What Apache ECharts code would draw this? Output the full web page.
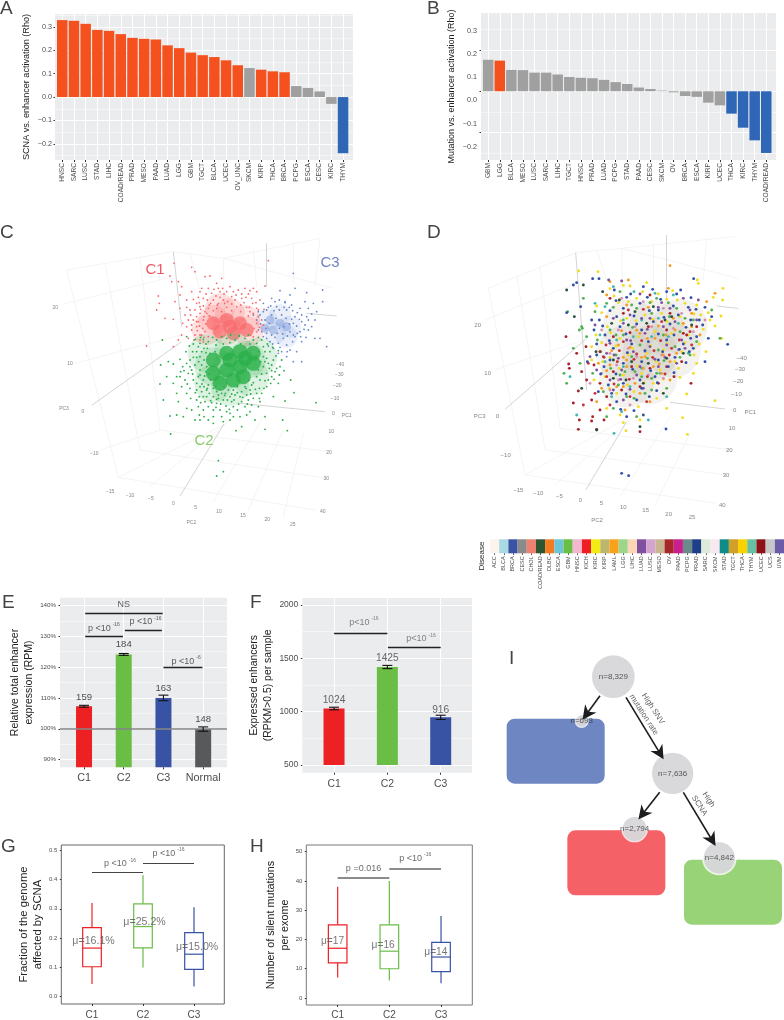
<!DOCTYPE html>
<html><head><meta charset="utf-8">
<style>html,body{margin:0;padding:0;background:#fff}#c{width:784px;height:1020px}</style>
<script src="https://cdn.jsdelivr.net/npm/echarts@6/dist/echarts.min.js"></script>
</head><body><div id="c"></div>
<script>
const FF='"Liberation Sans",Arial,sans-serif';
const RED='#F4511F',GRY='#A0A0A0',BLU='#2F66B5';
const aCats=['HNSC','SARC','LUSC','STAD','LIHC','COAD/READ','PRAD','MESO','PAAD','LUAD','LGG','GBM','TGCT','BLCA','UCEC','OV_UNC','SKCM','KIRP','THCA','BRCA','PCPG','ESCA','CESC','KIRC','THYM'];
const aVals=[.329,.326,.313,.287,.283,.269,.253,.249,.246,.221,.209,.19,.179,.171,.157,.136,.124,.117,.11,.106,.047,.039,.024,-.029,-.24];
const aCols=['r','r','r','r','r','r','r','r','r','r','r','r','r','r','r','r','g','r','r','r','g','g','g','g','b'];
const bCats=['GBM','LGG','BLCA','MESO','LUSC','SARC','LIHC','TGCT','HNSC','PRAD','LUAD','PCPG','STAD','PAAD','CESC','SKCM','OV','BRCA','ESCA','KIRP','UCEC','THCA','KIRC','THYM','COAD/READ'];
const bVals=[.152,.148,.103,.102,.09,.09,.081,.069,.065,.063,.055,.044,.035,.018,.011,.003,-.005,-.023,-.027,-.055,-.068,-.108,-.176,-.237,-.298];
const bCols=['g','r','g','g','g','g','g','g','g','g','g','g','g','g','g','g','g','g','g','g','g','b','b','b','b'];
const colMap={r:RED,g:GRY,b:BLU};

const tickIdx=n=>Array.from({length:n},(_,i)=>i+1);
const clusters=['C1','C2','C3'];
const eCats=['C1','C2','C3','Normal'];
const eVals=[107.3,124.1,110,99.9];
const eErr=[.3,.3,.9,.7];
const eCols=['#ED2024','#6ABD45','#3953A4','#58595B'];
const eTop=[['159',1,110.2],['184',2,127.4],['163',3,113.1],['148',4,102.9]];
const eBrackets=[[1.03,2.98,137.6],[1.03,1.98,129.9],[2.03,2.96,132.1],[3,3.98,119.9]];
const ePvals=[['NS',2,140.3],['{b|p <10}{s|-16}',1.5,132.5],['{b|p <10}{s|-16}',2.55,134.7],['{b|p <10}{s|-6}',3.57,121.9]];
const fVals=[1030,1419,947];
const fErr=[12,15,20];
const fTop=[['1024',1,1110],['1425',2,1504],['916',3,1016]];
const fBrackets=[[1,2,1740],[2.01,3,1603]];
const fPvals=[['{b|p<10}{s|-16}',1.56,1837],['{b|p<10}{s|-16}',2.63,1682]];
const gBox=[[.042,.101,.165,.235,.32],[.098,.166,.239,.317,.415],[.033,.092,.144,.218,.305]];
const gMu=[['μ=16.1%',1.03,.189],['μ=25.2%',2.03,.256],['μ=15.0%',3.06,.168]];
const gBrackets=[[1,2,.426],[2,3,.457]];
const gPvals=[['{b|p <10}{s|-16}',1.55,.454],['{b|p <10}{s|-16}',2.5,.491]];
const hBox=[[7,12,17,25,38],[6,10,16,25,40],[5,9,14,19,28]];
const hMu=[['μ=17',.9,19.4],['μ=16',1.88,18],['μ=14',2.9,15.7]];
const hBrackets=[[1,2,41],[2,3,44.2]];
const hPvals=[['{b|p =0.016}',1.5,44.1],['{b|p <10}{s|-16}',2.5,47.7]];
const diseases=['ACC','BLCA','BRCA','CESC','CHOL','COAD/READ','DLBC','ESCA','GBM','HNSC','KICH','KIRC','KIRP','LAML','LGG','LIHC','LUAD','LUSC','MESO','OV','PAAD','PCPG','PRAD','SARC','SKCM','STAD','TGCT','THCA','THYM','UCEC','UCS','UVM'];
const diseaseCols=['#FBF4EA','#A9D9E3','#3A53A4','#8A8A8A','#F08070','#2C5530','#F47B20','#6FC5D8','#6ABD45','#F3B8CE','#ED1F24','#F5EB14','#BDB76B','#F9A11B','#9DD58C','#FBD5B5','#7F4FA0','#D3A4CE','#C8B592','#A6282D','#CB1F8E','#6B8A8A','#1F3E87','#DDE9D9','#F8E9F1','#0E8C88','#D0A028','#FAD200','#68C0A4','#8E1318','#C6C7C9','#6C5BA7'];

/* Panel C: points */
const cGreenHaze=[[690,450],[640,440],[740,420],[690,500],[640,490],[750,470],[700,395],[620,400],[775,410]];
const cGreenCore=[[640,420],[680,400],[720,395],[760,400],[640,460],[680,450],[720,440],[760,430],[660,490],[700,480],[730,470],[690,420],[735,415]];
const cRedHaze=[[640,300],[690,280],[735,300],[680,330],[620,330],[660,265],[745,335]];
const cRedCore=[[640,310],[680,300],[720,310],[660,335],[700,340],[740,330],[690,320]];
const cBlueHaze=[[800,300],[840,285],[870,320],[825,340],[860,350]];
const cBlueCore=[[810,300],[840,310],[820,330],[860,320],[795,325]];
const cGreen=[[512,642],[655,722],[670,755],[650,768],[480,492],[490,540],[510,588],[530,585],[487,360],[505,425],[520,432],[540,418],[482,435],[500,470],[560,350],[580,372],[545,500],[560,520],[575,570],[560,565],[600,600],[612,590],[598,585],[640,590],[670,605],[690,600],[708,632],[725,620],[795,628],[862,632],[848,600],[795,590],[855,543],[882,518],[948,548],[872,480],[835,490],[780,545],[750,575],[720,590],[660,570],[625,560],[590,540],[570,505],[555,480],[540,470],[575,450],[560,430],[590,395],[600,370],[830,445],[845,420],[815,470],[800,500],[770,520],[745,540],[700,560],[680,575],[650,550],[610,530],[590,510],[580,480],[600,500],[620,510],[640,530],[670,540],[690,530],[720,530],[750,510],[780,480],[800,460],[820,420],[810,395],[790,380],[570,420],[585,435],[600,450],[595,470],[610,480],[625,495],[650,515],[665,520],[700,510],[725,515],[755,495],[770,470],[790,440],[800,415],[785,360],[770,370],[600,410],[612,385],[625,365],[650,360],[680,355],[705,360],[735,355],[760,360],[605,435],[618,455],[632,480],[640,505],[685,510],[712,500],[745,480],[775,450],[790,410],[578,395],[565,460],[590,490],[572,535],[605,515],[615,545],[635,548],[655,535],[678,558],[695,545],[712,570],[735,560],[760,535],[785,520],[805,480],[825,455],[840,440],[815,435],[805,430],[795,395],[775,395],[620,440],[612,420],[596,425],[580,412],[630,400],[622,385],[648,375],[670,372],[690,368],[722,372],[750,372],[628,520],[612,500],[672,500],[660,508],[740,525],[725,545],[705,525],[690,580],[665,590],[640,570],[610,570],[595,560],[548,440],[530,520],[520,490],[640,610],[625,600],[755,555],[775,560]];
const cGreen2=[[558,395],[568,378],[586,358],[602,352],[618,398],[590,412],[552,452],[562,492],[578,462],[586,518],[598,530],[602,548],[620,530],[632,542],[648,562],[662,552],[674,526],[688,568],[702,540],[716,552],[728,532],[742,552],[752,522],[766,508],[778,535],[792,505],[812,490],[822,478],[838,465],[852,452],[828,408],[835,392],[818,382],[802,372],[775,352],[745,345],[718,348],[692,345],[665,350],[638,352],[610,358],[595,380],[605,395],[614,468],[606,492],[650,538],[682,540],[712,518],[738,505],[760,488],[785,462],[808,445],[795,425],[782,425],[770,408],[645,395],[618,372],[600,465],[628,462],[622,505],[648,498],[676,520],[735,500],[778,505],[795,482],[815,452],[655,525],[695,522],[570,440],[542,455],[530,470],[535,545],[550,590],[585,600],[700,590],[740,585],[765,600],[820,530]];
const cRed=[[805,122],[575,142],[585,155],[522,130],[510,168],[515,185],[535,185],[475,228],[478,250],[440,378],[495,295],[520,298],[548,310],[520,380],[540,225],[560,240],[575,215],[600,215],[625,205],[650,190],[665,175],[630,168],[615,170],[660,215],[690,200],[715,210],[735,205],[760,205],[795,198],[780,240],[755,235],[725,235],[695,230],[670,240],[640,240],[610,235],[590,250],[570,270],[555,285],[580,300],[600,280],[625,265],[650,265],[680,262],[710,260],[740,262],[770,265],[590,320],[585,345],[600,345],[610,300],[620,280],[560,320],[545,345],[575,330],[600,260],[635,220],[655,250],[750,275],[775,290],[790,315],[770,335],[610,365],[595,232],[618,222],[642,208],[668,205],[700,215],[745,222],[770,215],[585,270],[610,258],[632,250],[660,232],[683,245],[705,240],[732,248],[758,250],[565,300],[590,290],[615,275],[595,305],[608,325],[600,360],[625,350],[615,335],[770,310],[760,350],[640,272],[665,275],[695,272],[722,275],[745,288],[540,265],[525,245],[545,200],[470,270],[565,355],[535,360]];
const cRed2=[[598,248],[622,240],[648,228],[672,222],[708,225],[738,232],[768,248],[792,268],[602,268],[628,255],[652,255],[674,250],[695,252],[722,255],[748,262],[572,285],[590,305],[575,315],[598,318],[612,290],[628,288],[760,280],[775,270],[785,300],[778,322],[605,345],[612,352],[592,332],[618,312],[582,360],[762,325],[752,345],[560,262],[580,238],[605,205],[680,215],[725,222],[750,212],[655,205]];
const cBlue=[[880,160],[920,218],[968,210],[968,245],[940,250],[885,205],[840,212],[815,235],[790,250],[855,245],[875,255],[900,265],[920,290],[945,300],[960,355],[980,380],[945,355],[925,330],[905,305],[885,290],[860,270],[830,260],[800,270],[780,285],[770,300],[775,330],[790,350],[810,365],[835,370],[860,375],[885,350],[905,365],[890,395],[860,410],[880,425],[905,425],[845,395],[820,385],[800,340],[900,335],[870,335],[880,310],[845,285],[815,285],[795,300],[925,265],[915,245],[870,225],[838,240],[812,258],[868,262],[892,278],[905,285],[875,298],[890,318],[915,315],[935,320],[878,365],[850,355],[825,352],[800,355],[840,382],[870,390],[855,248],[760,285],[775,275]];
const cBlue2=[[790,275],[805,262],[822,272],[838,270],[852,262],[878,272],[898,298],[912,328],[892,340],[880,345],[862,348],[848,342],[832,340],[815,345],[798,325],[782,312],[785,335],[808,310],[828,295],[858,295],[868,312],[852,320],[838,325],[902,350],[918,352],[862,395],[835,400],[818,372],[805,378],[925,300],[935,282],[950,275],[825,245]];
const cLabels=[['20',166,264],['10',210,430],['PC3',192,565],['0',249,575],['−10',283,702],['−15',330,816],['−10',390,826],['−5',453,837],['0',520,850],['5',587,862],['10',657,874],['15',729,887],['20',802,900],['25',878,914],['PC2',574,908],['−40',1020,435],['−30',1018,465],['−20',1012,498],['−10',1005,537],['0',1000,581],['PC1',1040,587],['10',994,635],['20',987,699],['30',979,777],['40',968,876]];
const cNames=[['C1',465,150,'#EE2B3B'],['C3',990,128,'#4B63B0'],['C2',612,662,'#6DBE45']];
const cAxisLines=[[[275,556],[545,365]],[[520,95],[545,320]],[[800,70],[800,200]],[[540,828],[672,612]],[[720,550],[975,575]],[[920,280],[1010,288]]];
const cFaint=[[[200,150],[355,772]],[[315,130],[420,690]],[[420,112],[480,630]],[[190,252],[520,170]],[[225,430],[545,345]],[[300,690],[480,630]],[[355,772],[945,870]],[[420,690],[980,775]],[[480,630],[990,695]],[[355,772],[670,615]],[[450,800],[690,600]],[[640,845],[790,590]],[[745,870],[850,630]],[[850,890],[910,640]],[[200,150],[520,95]],[[520,95],[670,115]],[[670,115],[1000,205]],[[670,115],[675,350]],[[570,105],[600,210]],[[760,90],[770,200]],[[880,70],[880,190]],[[960,55],[945,200]],[[670,115],[960,55]]];

/* Panel D: points */
const dCore=[[660,320],[740,320],[810,320],[640,400],[720,400],[790,390],[650,480],[720,470]];
const dBlue=[[500,188],[548,176],[567,176],[613,210],[650,232],[700,200],[728,208],[770,215],[812,210],[851,176],[843,233],[885,262],[868,300],[835,262],[790,258],[745,270],[690,250],[640,265],[600,272],[568,300],[552,330],[585,345],[630,320],[680,312],[730,305],[780,312],[828,322],[860,350],[820,372],[770,360],[715,365],[665,372],[610,385],[560,405],[532,425],[582,440],[640,430],[695,425],[745,420],[795,412],[850,385],[953,373],[885,425],[735,470],[690,480],[640,490],[595,495],[620,545],[680,540],[740,512],[768,627],[635,760],[656,767],[490,195],[512,260],[470,278],[700,585],[650,590]];
const dBlue2=[[618,242],[662,222],[712,232],[752,238],[800,222],[858,268],[878,315],[842,300],[805,285],[762,292],[718,272],[672,288],[620,290],[578,318],[598,362],[648,342],[695,330],[745,342],[792,345],[842,355],[808,388],[758,395],[705,392],[652,398],[600,420],[572,462],[618,462],[668,448],[722,452],[775,440],[828,428],[792,458],[742,488],[695,505],[648,522],[605,520],[565,515],[632,568],[672,572],[718,530],[838,395],[895,355],[905,290],[560,372],[545,300]];
const dYellow=[[506,153],[564,155],[600,206],[640,196],[660,198],[710,188],[862,180],[865,190],[939,205],[910,232],[938,240],[860,255],[802,240],[770,238],[725,245],[680,235],[625,248],[575,278],[592,320],[650,295],[705,285],[755,280],[810,290],[872,285],[900,300],[933,288],[880,328],[835,345],[785,340],[735,335],[685,350],[630,355],[575,368],[545,380],[600,412],[655,405],[710,400],[760,390],[815,395],[868,372],[935,355],[888,395],[860,430],[805,445],[750,450],[695,460],[640,465],[585,470],[620,520],[672,515],[730,490],[830,522],[915,542],[770,565],[818,593],[832,643],[640,608],[648,632],[690,600]];
const dYellow2=[[612,228],[655,245],[698,215],[745,222],[788,212],[825,250],[852,282],[818,312],[772,305],[728,298],[678,302],[632,302],[602,338],[558,345],[618,378],[668,385],[722,378],[772,372],[825,368],[852,405],[795,425],[738,425],[682,438],[628,445],[578,425],[552,480],[598,505],[652,495],[702,488],[760,478],[810,472],[740,535],[685,560],[630,585],[590,565],[895,278],[915,318],[850,460],[560,258],[545,420]];
const dRed=[[468,350],[476,432],[500,400],[478,445],[515,455],[505,513],[490,549],[508,600],[505,628],[548,590],[545,603],[560,628],[582,600],[528,380],[552,435],[570,395],[610,350],[660,338],[715,320],[770,330],[830,345],[815,425],[770,440],[720,445],[665,440],[610,455],[570,490],[590,530],[635,510],[690,500],[745,490],[792,470],[843,490],[690,635],[570,570],[545,540],[530,480],[780,280],[720,225],[640,280],[600,235],[820,340],[860,320]];
const dRed2=[[588,375],[628,392],[680,402],[732,392],[785,385],[640,365],[695,362],[752,362],[808,360],[582,412],[622,425],[672,418],[728,412],[778,405],[612,492],[658,478],[712,470],[765,462],[600,555],[660,530],[710,545],[555,520],[520,555],[535,430],[590,470],[845,375],[840,335],[755,305],[700,268],[655,270]];
const dGreen=[[473,275],[520,235],[515,320],[490,385],[462,460],[470,490],[510,430],[530,350],[555,275],[590,250],[630,215],[680,265],[740,235],[800,265],[850,300],[905,270],[930,355],[840,405],[795,380],[745,390],[690,375],[640,345],[600,330],[562,360],[548,460],[580,515],[630,465],[675,455],[725,475],[770,505],[705,520],[650,530],[610,565],[590,590],[680,590],[517,325],[508,330]];
const dGreen2=[[610,262],[665,255],[720,248],[775,248],[825,295],[778,290],[725,280],[668,322],[618,345],[572,395],[618,405],[665,410],[712,415],[762,422],[810,412],[645,455],[695,470],[740,460],[602,445],[625,495],[672,535],[725,510],[760,345],[810,335],[860,365]];
const dOrange=[[780,137],[600,185],[655,180],[775,205],[715,262],[650,255],[590,290],[625,375],[680,330],[735,355],[790,295],[845,280],[890,245],[870,345],[820,310],[760,405],[705,410],[650,420],[600,435],[565,430],[620,500],[675,490],[730,440],[780,480],[560,545],[645,570],[780,425],[915,220],[720,545],[590,225]];
const dOrange2=[[635,332],[690,340],[745,318],[795,330],[845,320],[605,392],[660,382],[712,355],[768,345],[640,412],[695,412],[748,432],[800,400],[590,452],[650,440],[700,445],[575,505],[640,500],[690,520],[755,460]];
const dPurple=[[596,180],[635,183],[690,222],[755,248],[820,235],[840,270],[760,320],[705,340],[650,360],[600,370],[555,315],[540,410],[580,410],[625,415],[670,395],[720,380],[770,375],[815,360],[800,430],[745,440],[690,440],[635,450],[600,480],[640,540],[700,505],[560,450],[610,295],[660,285],[720,295],[780,265],[865,240]];
const dPurple2=[[640,310],[695,295],[745,262],[795,305],[612,405],[662,362],[712,328],[765,412],[825,385],[590,400],[632,478],[680,465],[735,418],[610,510],[660,508],[860,300]];
const dPink=[[635,235],[700,245],[760,265],[815,280],[575,330],[625,330],[675,320],[725,320],[790,325],[850,335],[600,400],[655,385],[705,395],[755,405],[805,390],[620,435],[680,410],[730,415],[575,460],[625,480],[670,475],[715,465],[760,475],[660,555],[600,510],[540,490],[885,300]];
const dTeal=[[610,200],[672,215],[735,220],[790,225],[555,250],[585,260],[640,300],[695,300],[745,295],[805,310],[570,345],[620,360],[670,350],[725,350],[775,350],[835,400],[585,425],[640,440],[695,445],[750,460],[660,500],[605,530],[635,575],[715,600],[480,470],[500,585],[612,640],[770,530]];
const dDark=[[520,195],[578,215],[628,240],[675,275],[730,260],[785,290],[845,315],[605,310],[655,315],[710,310],[765,300],[558,395],[610,420],[665,425],[715,430],[770,415],[820,400],[648,480],[700,490],[760,520],[610,475],[470,210],[493,290],[515,505],[690,620],[560,630]];
const dTexts=[['20',203,316],['10',233,461],['PC3',209,590],['0',262,590],['−10',287,707],['−15',325,810],['−10',385,820],['−5',448,830],['0',511,840],['5',574,851],['10',640,861],['15',707,872],['20',776,883],['25',846,893],['PC2',561,902],['−40',995,414],['−30',990,447],['−20',985,483],['−10',980,524],['0',974,571],['PC1',1021,578],['10',966,626],['20',958,690],['30',948,765],['40',937,855]];
const dAxisLines=[[[285,568],[530,355]],[[497,98],[530,510]],[[770,45],[770,240]],[[527,810],[650,605]],[[780,547],[945,567]],[[920,258],[985,265]]];
const dFaint=[[[235,205],[345,765]],[[320,165],[405,690]],[[390,140],[450,625]],[[225,300],[497,190]],[[255,450],[520,360]],[[345,765],[920,850]],[[405,690],[950,765]],[[450,625],[965,690]],[[345,765],[640,600]],[[440,790],[660,600]],[[630,830],[780,590]],[[735,855],[840,640]],[[235,205],[497,98]],[[497,98],[635,85]],[[635,85],[985,175]],[[635,85],[640,300]],[[635,85],[975,50]],[[730,70],[730,200]],[[890,55],[880,180]],[[560,90],[590,180]]];

/* Panel I */
const iRects=[[50,236,344,431,'#6E86C2'],[232,571,526,766,'#F46268'],[582,659,876,854,'#99D378']];
const iNodes=[['n=8,329',370,110,64,0],['n=7,636',548,400,62,0],['n=693',275,243,17,4],['n=2,794',434,567,36,4],['n=4,842',688,654,47,5]];
const iArrows=[[[330,167],[290,222]],[[408,172],[510,340]],[[509,457],[458,522]],[[580,457],[666,600]]];
const iNotes=[['High SNV\nmutation rate',475,215,-57],['High\nSCNA',642,488,-57]];

const grid=[],xAxis=[],yAxis=[],series=[];
const minus=s=>s.replace('-','−');
function newGrid(rect,o){grid.push({left:rect[0],top:rect[1],width:rect[2],height:rect[3],show:true,borderWidth:0,backgroundColor:'transparent',...o});return grid.length-1}
function addText(g,x,y,items,st){
 series.push({type:'scatter',xAxisIndex:x,yAxisIndex:y,silent:true,symbolSize:1,z:20,itemStyle:{color:'transparent'},
  data:items.map(t=>({value:[t[1],t[2]],label:{show:true,position:'inside',formatter:t[0],color:t[3]||st.color,fontSize:st.fontSize,fontFamily:FF,align:'center',verticalAlign:'middle',
   rich:{b:{fontSize:st.fontSize,color:st.color,fontFamily:FF},s:{fontSize:5,color:st.color,fontFamily:FF,padding:[0,0,7,2]}}}}))});
}
function addLines(x,y,segs,color,width,z){
 series.push({type:'lines',coordinateSystem:'cartesian2d',xAxisIndex:x,yAxisIndex:y,silent:true,z:z||10,lineStyle:{color,width,opacity:1},data:segs.map(s=>({coords:s}))});
}
const bracketSegs=b=>b.map(r=>[[r[0],r[2]],[r[1],r[2]]]);
function xTicks(gi,min,max,vals,fmt,lab,splitShow){
 xAxis.push({type:'value',gridIndex:gi,position:'bottom',min,max,axisLine:{show:false,onZero:false},
  axisTick:{show:true,customValues:vals,length:lab.tick||2,lineStyle:{color:'#333',width:1}},
  axisLabel:{customValues:vals,formatter:fmt,color:'#4d4d4d',fontFamily:FF,fontSize:lab.fontSize,rotate:lab.rotate||0,margin:lab.margin,hideOverlap:false,showMinLabel:true,showMaxLabel:true},
  splitLine:{show:splitShow,lineStyle:{color:'#fff',width:1}}});
 return xAxis.length-1;
}
function yTicks(gi,min,max,vals,fmt,o){
 o=o||{};
 yAxis.push({type:'value',gridIndex:gi,position:'left',min,max,axisLine:{show:false,onZero:false},
  axisTick:{show:o.tick!==false,customValues:vals,length:o.tickLen||1.5,lineStyle:{color:'#333',width:1}},
  axisLabel:{show:!!fmt,customValues:vals,formatter:fmt||'',color:'#4d4d4d',fontFamily:FF,fontSize:o.fontSize||7,margin:o.margin||3},
  splitLine:{show:o.split!==false,lineStyle:{color:'#fff',width:o.splitW||1}},
  name:o.name||'',nameLocation:'middle',nameGap:o.nameGap||20,nameTextStyle:{color:'#222',fontFamily:FF,fontSize:o.nameSize||10,lineHeight:o.nameLH||14}});
 return yAxis.length-1;
}
/* A */
{const g=newGrid([55,14,298,146],{backgroundColor:'#EBECEE'});
 const x=xTicks(g,.38,25.85,tickIdx(25),v=>aCats[v-1]||'',{fontSize:6.6,rotate:90,margin:3},true);
 const y=yTicks(g,-.269,.355,[-.2,-.1,0,.1,.2,.3],v=>minus(v.toFixed(1)),{splitW:1.2,fontSize:7.2,name:'SCNA vs. enhancer activation (Rho)',nameGap:19,nameSize:9.1});
 yTicks(g,-.269,.355,[-.15,-.05,.05,.15,.25,.35,-.25],null,{tick:false,splitW:.5});
 series.push({type:'bar',xAxisIndex:x,yAxisIndex:y,barWidth:10.5,z:5,data:aVals.map((v,i)=>({value:[i+1,v],itemStyle:{color:colMap[aCols[i]]}}))});
}
/* B */
{const g=newGrid([481,13,295,147],{backgroundColor:'#EBECEE'});
 const x=xTicks(g,.38,25.84,tickIdx(25),v=>bCats[v-1]||'',{fontSize:6.6,rotate:90,margin:3},true);
 const y=yTicks(g,-.332,.378,[-.2,0,.2],null,{splitW:1.2});
 yTicks(g,-.332,.378,[-.3,-.1,.1,.3],null,{tick:false,splitW:.5});
 yTicks(g,-.256,.376,[-.2,-.1,0,.1,.2,.3],v=>minus(v.toFixed(1)),{tick:false,split:false,fontSize:7.2,margin:4,name:'Mutation vs. enhancer activation (Rho)',nameGap:20,nameSize:9});
 series.push({type:'bar',xAxisIndex:x,yAxisIndex:y,barWidth:10.5,z:5,data:bVals.map((v,i)=>({value:[i+1,v],itemStyle:{color:colMap[bCols[i]]}}))});
}
function hidden(g,w,h){
 xAxis.push({type:'value',gridIndex:g,show:false,min:0,max:w});
 yAxis.push({type:'value',gridIndex:g,show:false,min:0,max:h,inverse:true});
 return [xAxis.length-1,yAxis.length-1];
}
function pts(x,y,data,color,size,opacity,z){
 series.push({type:'scatter',xAxisIndex:x,yAxisIndex:y,silent:true,symbolSize:size,z:z,itemStyle:{color,opacity:opacity==null?1:opacity},data});
}
/* C */
{const g=newGrid([0,220,392,320]);const [x,y]=hidden(g,1176,960);
 addLines(x,y,cFaint,'#EFEFEF',.7,1);addLines(x,y,cAxisLines,'#C9C9C9',.8,2);
 pts(x,y,cBlueHaze,'#7E9BDB',22,.16,3);pts(x,y,cBlueCore,'#7E9BDB',9,.5,3);pts(x,y,cBlue,'#6688CF',1.8,1,3);pts(x,y,cBlue2,'#6688CF',1.8,1,3);
 pts(x,y,cRedHaze,'#F8696B',30,.2,4);pts(x,y,cRedCore,'#F8696B',14,.7,4);pts(x,y,cRed,'#F8696B',1.8,1,4);pts(x,y,cRed2,'#F8696B',1.8,1,4);
 pts(x,y,cGreenHaze,'#2BB04A',38,.16,5);pts(x,y,cGreenCore,'#2BB04A',15,.8,5);pts(x,y,cGreen,'#2BB04A',1.9,1,5);pts(x,y,cGreen2,'#2BB04A',1.9,1,5);
 addText(g,x,y,cLabels,{color:'#666',fontSize:5});
 addText(g,x,y,cNames.map(n=>[n[0],n[1],n[2],n[3]]),{color:'#666',fontSize:15});
}
/* D */
{const g=newGrid([410,220,374,360]);const [x,y]=hidden(g,1122,1080);
 addLines(x,y,dFaint,'#EFEFEF',.7,1);addLines(x,y,dAxisLines,'#C9C9C9',.8,2);
 pts(x,y,dCore,'#A9A490',55,.14,3);
 const sz=2.9;
 [[dYellow,'#F2DC1E'],[dYellow2,'#F2DC1E'],[dTeal,'#3DB7B0'],[dPink,'#D98FB5'],[dOrange,'#F59A23'],[dOrange2,'#F59A23'],[dGreen,'#4FAF52'],[dGreen2,'#4FAF52'],[dPurple,'#7F4FA0'],[dPurple2,'#7F4FA0'],[dRed,'#A8202A'],[dRed2,'#C5303A'],[dBlue,'#2F4FA8'],[dBlue2,'#2F4FA8'],[dDark,'#26503A']].forEach((s,i)=>pts(x,y,s[0],s[1],sz,1,4));
 addText(g,x,y,dTexts,{color:'#666',fontSize:6});
}
/* D legend */
{const g=newGrid([490,539.3,294,14]);
 xAxis.push({type:'category',gridIndex:g,data:diseases,axisLine:{show:false},axisTick:{show:true,length:1.5,alignWithLabel:true,lineStyle:{color:'#333'}},axisLabel:{interval:0,rotate:90,fontSize:5.5,fontFamily:FF,color:'#4d4d4d',margin:3}});
 yAxis.push({type:'value',gridIndex:g,show:false,min:0,max:1});
 series.push({type:'bar',xAxisIndex:xAxis.length-1,yAxisIndex:yAxis.length-1,barWidth:'100%',data:diseases.map((d,i)=>({value:1,itemStyle:{color:diseaseCols[i]}}))});
}
function errorBars(x,y,data,cap){
 series.push({type:'custom',xAxisIndex:x,yAxisIndex:y,silent:true,z:9,encode:{x:0,y:[1,2]},data,
  renderItem(p,api){const X=api.value(0),a=api.coord([X,api.value(1)]),b=api.coord([X,api.value(2)]);
   const st={stroke:'#111',lineWidth:1.1,fill:null};
   return {type:'group',children:[{type:'line',shape:{x1:a[0],y1:a[1],x2:b[0],y2:b[1]},style:st},{type:'line',shape:{x1:a[0]-cap,y1:a[1],x2:a[0]+cap,y2:a[1]},style:st},{type:'line',shape:{x1:b[0]-cap,y1:b[1],x2:b[0]+cap,y2:b[1]},style:st}]};}});
}
const gg5=(g,lo,hi,vals)=>yTicks(g,lo,hi,vals,null,{tick:false,splitW:.5});
/* E */
{const g=newGrid([60,597.7,167,169.6],{backgroundColor:'#EBECEE'});
 const x=xTicks(g,.395,4.6,[1,2,3,4],v=>eCats[v-1]||'',{fontSize:10.8,margin:5},true);
 const y=yTicks(g,87.5,142.5,[90,100,110,120,130,140],v=>v+'%',{splitW:1.2,fontSize:6.2,margin:4,name:'Relative total enhancer\nexpression (RPM)',nameGap:17,nameSize:10.5,nameLH:14});
 gg5(g,87.5,142.5,[95,105,115,125,135]);
 series.push({type:'bar',xAxisIndex:x,yAxisIndex:y,barWidth:16,z:5,data:eVals.map((v,i)=>({value:[i+1,v],itemStyle:{color:eCols[i]}}))});
 addLines(x,y,[[[.395,100],[4.6,100]]],'#868686',1.5,8);
 errorBars(x,y,eVals.map((v,i)=>[i+1,v-eErr[i],v+eErr[i]]),5);
 addLines(x,y,bracketSegs(eBrackets),'#222',1.3,10);
 addText(g,x,y,eTop,{color:'#222',fontSize:9.5});
 addText(g,x,y,ePvals,{color:'#333',fontSize:9});
}
/* F */
{const g=newGrid([302.3,598,169.7,174.7],{backgroundColor:'#EBECEE'});
 const x=xTicks(g,.405,3.587,[1,2,3],v=>clusters[v-1]||'',{fontSize:10.4,margin:6},true);
 const y=yTicks(g,428,2066,[500,1000,1500,2000],v=>String(v),{splitW:1.2,fontSize:8.5,margin:4,name:'Expressed enhancers\n(RPKM>0.5) per sample',nameGap:24,nameSize:10.4,nameLH:14});
 gg5(g,428,2066,[750,1250,1750]);
 series.push({type:'custom',xAxisIndex:x,yAxisIndex:y,silent:true,z:5,encode:{x:0,y:1},data:fVals.map((v,i)=>[i+1,v]),
  renderItem(p,api){const X=api.value(0),t=api.coord([X,api.value(1)]),b=api.coord([X,500]);return {type:'rect',shape:{x:t[0]-10.5,y:t[1],width:21,height:b[1]-t[1]},style:{fill:eCols[p.dataIndex]}};}});
 errorBars(x,y,fVals.map((v,i)=>[i+1,v-fErr[i],v+fErr[i]]),5);
 addLines(x,y,bracketSegs(fBrackets),'#222',1.3,10);
 addText(g,x,y,fTop,{color:'#444',fontSize:10.2});
 addText(g,x,y,fPvals,{color:'#666',fontSize:9});
}
function boxes(x,y,data,lw){
 series.push({type:'custom',xAxisIndex:x,yAxisIndex:y,silent:true,z:6,encode:{x:0,y:[1,5]},data:data.map((d,i)=>[i+1,...d]),
  renderItem(p,api){const X=api.value(0),c=eCols[p.dataIndex],w=9.3,P=k=>api.coord([X,api.value(k)]);
   const [lo,q1,m,q3,hi]=[1,2,3,4,5].map(P);const st={stroke:c,lineWidth:lw,fill:null};
   return {type:'group',children:[
    {type:'rect',shape:{x:q3[0]-w,y:q3[1],width:2*w,height:q1[1]-q3[1]},style:st},
    {type:'line',shape:{x1:m[0]-w,y1:m[1],x2:m[0]+w,y2:m[1]},style:st},
    {type:'line',shape:{x1:hi[0],y1:hi[1],x2:q3[0],y2:q3[1]},style:st},
    {type:'line',shape:{x1:q1[0],y1:q1[1],x2:lo[0],y2:lo[1]},style:st}]};}});
}
/* G */
{const g=newGrid([61.3,845,163,160.3],{borderWidth:1,borderColor:'#666'});
 const x=xTicks(g,.398,3.594,[1,2,3],v=>clusters[v-1]||'',{fontSize:10,margin:6},false);
 const y=yTicks(g,-.027,.519,[0,.1,.2,.3,.4,.5],v=>v.toFixed(1),{split:false,fontSize:6,margin:4,name:'Fraction of the genome\naffected by SCNA',nameGap:13,nameSize:11.3,nameLH:14});
 boxes(x,y,gBox,1.2);
 addLines(x,y,bracketSegs(gBrackets),'#444',1.1,10);
 addText(g,x,y,gMu,{color:'#555',fontSize:10.6});
 addText(g,x,y,gPvals,{color:'#444',fontSize:9});
}
/* H */
{const g=newGrid([306.3,845,166,161],{borderWidth:1,borderColor:'#777'});
 const x=xTicks(g,.393,3.605,[1,2,3],v=>clusters[v-1]||'',{fontSize:10,margin:5},false);
 const y=yTicks(g,-2.4,52.3,[0,10,20,30,40,50],v=>String(v),{split:false,fontSize:6,margin:4,name:'Number of silent mutations\nper exome',nameGap:13,nameSize:10.8,nameLH:14});
 boxes(x,y,hBox,1.2);
 addLines(x,y,bracketSegs(hBrackets),'#666',1.5,10);
 addText(g,x,y,hMu,{color:'#555',fontSize:10.2});
 addText(g,x,y,hPvals,{color:'#444',fontSize:9});
}
/* I */
{const g=newGrid([490,640,294,300]);const [x,y]=hidden(g,882,900);
 series.push({type:'custom',xAxisIndex:x,yAxisIndex:y,silent:true,z:3,encode:{x:[0,2],y:[1,3]},data:iRects,
  renderItem(p,api){const a=api.coord([api.value(0),api.value(1)]),b=api.coord([api.value(2),api.value(3)]);
   return {type:'rect',shape:{x:a[0],y:a[1],width:b[0]-a[0],height:b[1]-a[1],r:8},style:{fill:iRects[p.dataIndex][4]}};}});
 series.push({type:'scatter',xAxisIndex:x,yAxisIndex:y,silent:true,z:4,itemStyle:{color:'#fff'},symbolSize:(v,p)=>2*(iNodes[p.dataIndex][3]+iNodes[p.dataIndex][4])/3,data:iNodes.map(n=>[n[1],n[2]])});
 series.push({type:'scatter',xAxisIndex:x,yAxisIndex:y,silent:true,z:5,itemStyle:{color:'#CFD0D2'},symbolSize:(v,p)=>2*iNodes[p.dataIndex][3]/3,data:iNodes.map(n=>[n[1],n[2]])});
 series.push({type:'lines',coordinateSystem:'cartesian2d',xAxisIndex:x,yAxisIndex:y,silent:true,z:6,symbol:['none','path://M0,-10 L10,10 L0,4 L-10,10 Z'],symbolSize:14,lineStyle:{color:'#1d1d1f',width:1.6,opacity:1},data:iArrows.map(s=>({coords:s}))});
 addText(g,x,y,iNodes.map(n=>[n[0],n[1],n[2]]),{color:'#333',fontSize:8});
 series.push({type:'scatter',xAxisIndex:x,yAxisIndex:y,silent:true,symbolSize:1,z:20,itemStyle:{color:'transparent'},
  data:iNotes.map(n=>({value:[n[1],n[2]],label:{show:true,position:'inside',formatter:n[0],rotate:n[3],color:'#333',fontSize:8,fontFamily:FF,lineHeight:11,align:'center',verticalAlign:'middle'}}))});
}
const letters=[['A',0,-1],['B',427,-1],['C',0,223],['D',427,223],['E',2,593],['F',250,593],['G',1,837],['H',250,837],['I',509,649]];
const graphic=letters.map(l=>({type:'text',left:l[1],top:l[2],silent:true,style:{text:l[0],fontFamily:FF,fontSize:19,fill:'#444'}}));
graphic.push({type:'text',x:481.7,y:556,rotation:Math.PI/2,silent:true,style:{text:'Disease',fontFamily:FF,fontSize:8,fill:'#222',textAlign:'center',textVerticalAlign:'middle'}});
const chart=echarts.init(document.getElementById('c'),null,{renderer:'canvas',width:784,height:1020});
chart.setOption({animation:false,backgroundColor:'#fff',grid,xAxis,yAxis,series,graphic});
</script></body></html>
